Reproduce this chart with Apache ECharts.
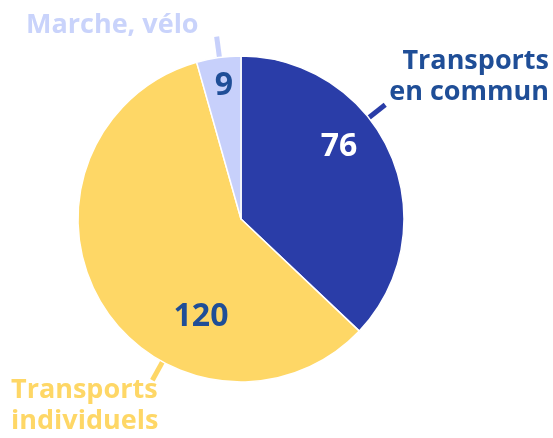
<!DOCTYPE html>
<html>
<head>
<meta charset="utf-8">
<script src="https://cdn.jsdelivr.net/npm/echarts@6/dist/echarts.min.js"></script>
<style>
html, body { margin: 0; padding: 0; background: #fff; }
#chart { width: 553px; height: 438px; }
</style>
</head>
<body>
<div id="chart"></div>
<script>
// données
var categories = ["Transports en commun", "Transports individuels", "Marche, vélo"];
var labelTexts = ["Transports\nen commun", "Transports\nindividuels", "Marche, vélo"];
var values = [76, 120, 9];

var colors = ["#2a3da8", "#fed766", "#c7d0fb"];
var nameColors = ["#1f4e97", "#fed766", "#c9d3fb"];
var valueColors = ["#ffffff", "#1f4e97", "#1f4e97"];

var cx = 241, cy = 219, R = 163;
var font = "'Open Sans', 'Liberation Sans', sans-serif";

// placement des étiquettes (comme dans Excel)
var namePos = [
	{x: 549, y: 77, align: "right"},
	{x: 11, y: 406, align: "left"},
	{x: 26, y: 25, align: "left"}
];
var valuePos = [
	{x: 339, y: 147},
	{x: 201, y: 317},
	{x: 224, y: 86}
];
var leaderAngle = [38.4, -118.8, 97.6]; // degrés
var leaderLen = 21;

function leaderPoints(i){
	var a = leaderAngle[i] * Math.PI / 180;
	return [
		[cx + R * Math.cos(a), cy - R * Math.sin(a)],
		[cx + (R + leaderLen) * Math.cos(a), cy - (R + leaderLen) * Math.sin(a)]
	];
}

var pieData = categories.map(function(c, i){
	return {
		name: c,
		value: values[i],
		itemStyle: {color: colors[i]},
		label: {color: nameColors[i]},
		labelLine: {lineStyle: {color: colors[i]}}
	};
});
var valueData = categories.map(function(c, i){
	return {
		name: c,
		value: values[i],
		label: {color: valueColors[i]}
	};
});

var chart = echarts.init(document.getElementById("chart"));
var option = {
	animation: false,
	series: [{
		type: "pie",
		center: [cx, cy],
		radius: R,
		startAngle: 90,
		clockwise: true,
		avoidLabelOverlap: false,
		itemStyle: {borderColor: "#fff", borderWidth: 1.5},
		emphasis: {disabled: true},
		label: {
			show: true,
			position: "outside",
			formatter: function(p){ return labelTexts[p.dataIndex]; },
			fontFamily: font,
			fontWeight: "bold",
			fontSize: 27,
			lineHeight: 31
		},
		labelLine: {show: true, length: 20, length2: 0, smooth: false, lineStyle: {width: 5}},
		labelLayout: function(p){
			var pos = namePos[p.dataIndex];
			return {
				x: pos.x, y: pos.y, align: pos.align, verticalAlign: "middle",
				labelLinePoints: leaderPoints(p.dataIndex)
			};
		},
		data: pieData
	}, {
		type: "pie",
		center: [cx, cy],
		radius: R,
		startAngle: 90,
		clockwise: true,
		silent: true,
		avoidLabelOverlap: false,
		itemStyle: {color: "rgba(0,0,0,0)", borderWidth: 0},
		emphasis: {disabled: true},
		label: {
			show: true,
			position: "inside",
			formatter: "{c}",
			fontFamily: font,
			fontWeight: "bold",
			fontSize: 32
		},
		labelLine: {show: false},
		labelLayout: function(p){
			var pos = valuePos[p.dataIndex];
			return {x: pos.x, y: pos.y, align: "center", verticalAlign: "middle"};
		},
		data: valueData
	}]
};
chart.setOption(option);
</script>
</body>
</html>
